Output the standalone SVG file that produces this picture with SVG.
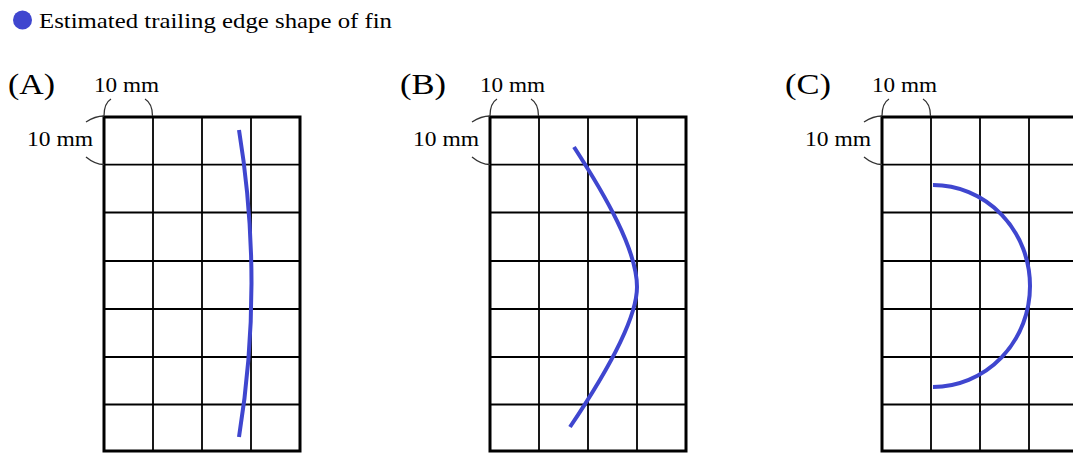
<svg xmlns="http://www.w3.org/2000/svg" xmlns:xlink="http://www.w3.org/1999/xlink" width="1073" height="454" viewBox="0 0 1073 454">
<style>
text{font-family:"Liberation Serif","Times New Roman",serif;fill:#000}
.lbl{font-size:30px}
.mm{font-size:22px}
.leg{font-size:22px}
.frame{fill:none;stroke:#000;stroke-width:3}
.inner{stroke:#000;stroke-width:1.8;fill:none}
.brace{fill:none;stroke:#333;stroke-width:1.3}
.fin{fill:none;stroke:#3f46cf;stroke-width:4;stroke-linecap:butt}
</style>
<defs>
<g id="grid">
<rect class="frame" x="104" y="117" width="196" height="334"/>
<path class="inner" d="M153,117V451M202,117V451M251,117V451M104,164.7H300M104,212.5H300M104,261H300M104,309H300M104,357H300M104,404.5H300"/>
<path class="brace" d="M104,116C104,108 106,102 111,99M152.5,116C152.5,108 150,102 145,99M104,116C98,116 92,118 86,122M104,164.5C98,164.5 92,162 86,157"/>
<text class="mm" x="94" y="92" textLength="65" lengthAdjust="spacingAndGlyphs">10 mm</text>
<text class="mm" x="27" y="146" textLength="66" lengthAdjust="spacingAndGlyphs">10 mm</text>
</g>
</defs>
<g id="legend">
<circle cx="22.5" cy="20" r="9.5" fill="#3f46cf"/>
<text class="leg" x="39" y="28" textLength="353" lengthAdjust="spacingAndGlyphs">Estimated trailing edge shape of fin</text>
</g>
<g id="panel-a">
<use xlink:href="#grid"/>
<text class="lbl" x="8" y="94" textLength="47" lengthAdjust="spacingAndGlyphs">(A)</text>
<path class="fin" d="M239,130Q264,283 239,437"/>
</g>
<g id="panel-b" transform="translate(386,0)">
<use xlink:href="#grid"/>
<text class="lbl" x="14" y="94" textLength="46" lengthAdjust="spacingAndGlyphs">(B)</text>
<path class="fin" d="M188,147C219,195 251,250 251,287C251,320 219,375 184,427"/>
</g>
<g id="panel-c" transform="translate(778,0)">
<use xlink:href="#grid"/>
<text class="lbl" x="7" y="94" textLength="46" lengthAdjust="spacingAndGlyphs">(C)</text>
<path class="fin" d="M155,185A97,101 0 0 1 155,387"/>
</g>
</svg>
